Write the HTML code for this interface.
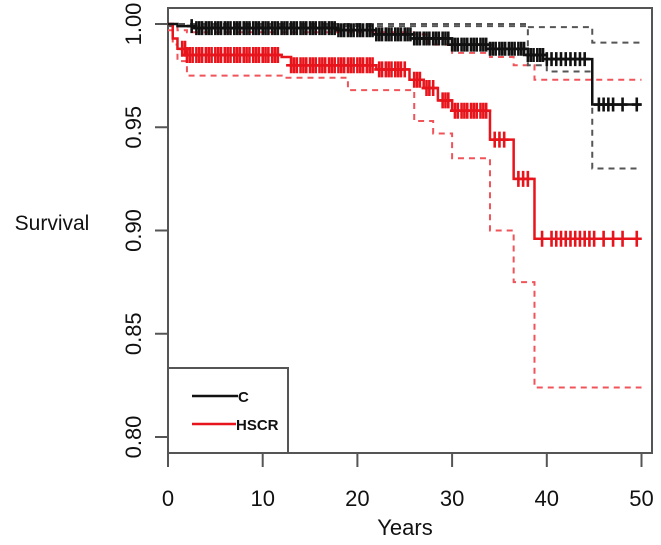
<!DOCTYPE html>
<html><head><meta charset="utf-8"><style>
body{margin:0;background:#fff;}
svg{display:block;font-family:"Liberation Sans",Arial,sans-serif;}
</style></head><body>
<svg id="chart" width="661" height="545" viewBox="0 0 661 545">
<rect x="168" y="8" width="484" height="445" fill="none" stroke="#555" stroke-width="2"/>
<g id="axes"></g>
<g id="series"></g>
<text x="52" y="230" font-size="21" text-anchor="middle" fill="#111">Survival</text>
<text x="405" y="535" font-size="22" text-anchor="middle" fill="#111">Years</text>
<g>
<rect x="168" y="368" width="120" height="85" fill="#fff" stroke="#555" stroke-width="2"/>
<line x1="192" y1="396" x2="238" y2="396" stroke="#111" stroke-width="2.5"/>
<text x="238" y="402" font-size="15" font-weight="bold" fill="#111">C</text>
<line x1="192" y1="424" x2="236" y2="424" stroke="#e8141c" stroke-width="2.5"/>
<text x="236" y="430" font-size="15" font-weight="bold" fill="#111">HSCR</text>
</g>
</svg>
<script>
const xTicks=[0,10,20,30,40,50];
const yTicks=[0.80,0.85,0.90,0.95,1.00];
const yTickLabels=["0.80","0.85","0.90","0.95","1.00"];
const cTimes=[0,1,3,18,22,26,30,34,38,40,44.8,50];
const cSurv=[1.0,0.999,0.998,0.997,0.995,0.993,0.99,0.988,0.985,0.983,0.961,0.961];
const cUpperTimes=[0,38,44.8,50];
const cUpperSurv=[1.0,0.9985,0.991,0.991];
const cLowerTimes=[0,38,40,44.8,50];
const cLowerSurv=[0.999,0.98,0.977,0.93,0.93];
const hTimes=[0,0.5,1,2,12,13,22,25.5,27,28.5,30,34,36.5,38.7,50];
const hSurv=[1.0,0.993,0.988,0.985,0.984,0.98,0.978,0.973,0.969,0.963,0.958,0.944,0.925,0.896,0.896];
const hUpperTimes=[0,1,2,26,27.5,30,34,36.5,38.7,50];
const hUpperSurv=[1.0,0.997,0.996,0.995,0.99,0.986,0.984,0.98,0.973,0.973];
const hLowerTimes=[0,0.5,1,2,12,19,26,28,30,34,36.5,38.7,50];
const hLowerSurv=[0.997,0.99,0.982,0.975,0.974,0.968,0.953,0.947,0.935,0.9,0.875,0.824,0.824];
const cCensor=[2.5,3,3.3,3.6,4,4.3,4.6,5,5.3,5.6,6,6.3,6.6,7,7.3,7.6,8,8.3,8.6,9,9.3,9.6,10,10.3,10.6,11,11.3,11.6,12,12.3,12.6,13,13.3,13.6,14,14.3,14.6,15,15.3,15.6,16,16.3,16.6,17,17.3,17.6,18,18.3,18.6,19,19.3,19.6,20,20.3,20.6,21,21.3,21.6,22,22.3,22.6,23,23.3,23.6,24,24.3,24.6,25,25.3,25.6,26,26.3,26.6,27,27.3,27.6,28,28.3,28.6,29,29.3,29.6,30,30.3,30.6,31,31.3,31.6,32,32.3,32.6,33,33.3,33.6,34,34.3,34.6,35,35.3,35.6,36,36.3,36.6,37,37.3,37.6,38,38.3,38.6,39,39.3,39.6,40,40.5,41,41.5,42,42.5,43,43.5,44,45.5,46,46.5,47,48,49.5];
const hCensor=[1.5,1.8,2,2.3,2.6,3,3.3,3.6,4,4.3,4.6,5,5.3,5.6,6,6.3,6.6,7,7.3,7.6,8,8.3,8.6,9,9.3,9.6,10,10.3,10.6,11,11.3,11.6,13,13.3,13.6,14,14.3,14.6,15,15.3,15.6,16,16.3,16.6,17,17.3,17.6,18,18.3,18.6,19,19.3,19.6,20,20.3,20.6,21,21.3,21.6,22.3,22.6,23,23.3,23.6,24,24.3,24.6,25,26,26.3,26.6,27.3,27.6,28,29,29.3,29.6,30.3,30.6,31,31.3,31.6,32,32.3,32.6,33,33.3,33.6,34.5,35,35.5,37,37.5,38,39.5,40.5,41,41.5,42,42.5,43,43.5,44,44.5,45,46,47,48,49.5];

const X=t=>168+9.47*t;
const Y=s=>437-(s-0.80)*2065;
const NS="http://www.w3.org/2000/svg";
const axes=document.getElementById('axes');
const series=document.getElementById('series');
function mk(tag,attrs,parent){const e=document.createElementNS(NS,tag);for(const k in attrs)e.setAttribute(k,attrs[k]);parent.appendChild(e);return e;}

const xa=mk('line',{x1:X(0),y1:453,x2:X(50),y2:453,stroke:'#555','stroke-width':2},axes);


xTicks.forEach(v=>{
  const l=mk('line',{x1:X(v),y1:453,x2:X(v),y2:467,stroke:'#555','stroke-width':2},axes);
  
  
  const t=mk('text',{x:X(v),y:506,'font-size':22,'text-anchor':'middle',fill:'#111'},axes);
  t.textContent=v;
  
  
});
yTicks.forEach((v,i)=>{
  const l=mk('line',{x1:155,y1:Y(v),x2:168,y2:Y(v),stroke:'#555','stroke-width':2},axes);
  
  
  const t=mk('text',{x:0,y:0,'font-size':22,'text-anchor':'middle',fill:'#111',transform:`translate(141,${Y(v)}) rotate(-90)`},axes);
  t.textContent=yTickLabels[i];
  
  
});

function stepPath(ts,ss){
  let d=`M${X(ts[0])},${Y(ss[0])}`;
  for(let i=1;i<ts.length;i++){d+=` H${X(ts[i])} V${Y(ss[i])}`;}
  return d;
}
function stepAt(ts,ss,t){let s=ss[0];for(let i=0;i<ts.length;i++){if(ts[i]<=t)s=ss[i];}return s;}

function drawCurve(ts,ss,color,dashed,w,name){
  const p=mk('path',{d:stepPath(ts,ss),fill:'none',stroke:color,'stroke-width':w},series);
  if(dashed)p.setAttribute('stroke-dasharray','6,5');
  
  
}
drawCurve(hUpperTimes,hUpperSurv,'#f0545a',true,2,'hscr-upper-ci');
drawCurve(hLowerTimes,hLowerSurv,'#f0545a',true,2,'hscr-lower-ci');
drawCurve(cUpperTimes,cUpperSurv,'#555',true,2,'c-upper-ci');
drawCurve(cLowerTimes,cLowerSurv,'#555',true,2,'c-lower-ci');
drawCurve(hTimes,hSurv,'#e8141c',false,2.5,'hscr-curve');
drawCurve(cTimes,cSurv,'#111',false,2.5,'c-curve');

function censors(list,ts,ss,color,name,h){
  list.forEach(t=>{
    const x=X(t),y=Y(stepAt(ts,ss,t));
    const p=mk('path',{d:`M${x-5},${y} H${x+5} M${x},${y-h} V${y+h}`,stroke:color,'stroke-width':2.6,fill:'none'},series);
    
    
  });
}
censors(hCensor,hTimes,hSurv,'#e8141c','hscr-censor-mark',8);
censors(cCensor,cTimes,cSurv,'#111','c-censor-mark',7);
</script>
</body></html>
